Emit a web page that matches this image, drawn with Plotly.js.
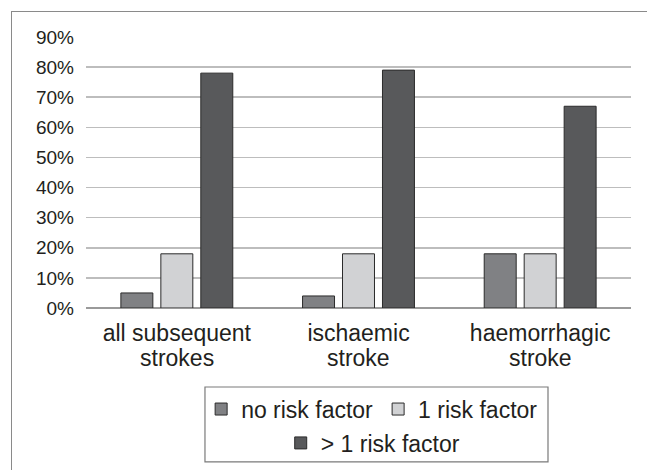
<!DOCTYPE html>
<html>
<head>
<meta charset="utf-8">
<script src="https://cdn.plot.ly/plotly-3.0.1.min.js"></script>
<style>
  html, body { margin: 0; padding: 0; background: #fff; }
  #wrap { position: relative; width: 647px; height: 470px; }
  #chart { width: 647px; height: 470px; }
  #frame {
    position: absolute; left: 11px; top: 11px; right: 0; bottom: 0;
    border-left: 1.5px solid #8a8a8a; border-top: 1.5px solid #8a8a8a;
    pointer-events: none;
  }
</style>
</head>
<body>
<div id="wrap">
  <div id="chart"></div>
  <div id="frame"></div>
</div>
<script>
// Stroke categories (x axis); each name is printed on two lines
const categories = ["all subsequent<br>strokes", "ischaemic<br>stroke", "haemorrhagic<br>stroke"];

// Share of patients (%) per number of risk factors
const noRiskFactor = [5, 4, 18];
const oneRiskFactor = [18, 18, 18];
const moreRiskFactors = [78, 79, 67];

const seriesNames = ["no risk factor", "1 risk factor", "> 1 risk factor"];
const yTicks = [0, 10, 20, 30, 40, 50, 60, 70, 80, 90];

// Split category names so the two lines can sit closer than Plotly's default line spacing
const firstLines = categories.map(c => c.split("<br>")[0]);
const secondLines = categories.map(c => c.split("<br>")[1]);

const outline = { color: "#2b2b2b", width: 1 };

const traces = [
  { type: "bar", name: seriesNames[0], x: categories, y: noRiskFactor,
    marker: { color: "#808184", line: outline }, legend: "legend" },
  { type: "bar", name: seriesNames[1], x: categories, y: oneRiskFactor,
    marker: { color: "#d1d2d4", line: outline }, legend: "legend" },
  { type: "bar", name: seriesNames[2], x: categories, y: moreRiskFactors,
    marker: { color: "#58595b", line: outline }, legend: "legend2" }
];

const textColor = "#231f20";
const fontFamily = "Liberation Sans, Arial, sans-serif";
const legendFont = { family: fontFamily, size: 23, color: textColor };
const catFont = { family: fontFamily, size: 23, color: textColor };

// second line of each category label, placed under the tick label
const secondLineNotes = categories.map((c, i) => ({
  xref: "x", yref: "paper",
  x: c, y: -0.1845,
  xanchor: "center", yanchor: "middle",
  text: secondLines[i],
  showarrow: false,
  font: catFont
}));

const layout = {
  width: 647, height: 470,
  margin: { l: 86, r: 16, t: 37, b: 162, autoexpand: false },
  paper_bgcolor: "#ffffff",
  plot_bgcolor: "#ffffff",
  barmode: "group",
  bargap: 0.34,
  bargroupgap: 0.2,
  showlegend: true,
  font: { family: fontFamily, color: textColor },
  xaxis: {
    type: "category",
    tickmode: "array",
    tickvals: categories,
    ticktext: firstLines,
    showgrid: false,
    showline: false,
    ticks: "",
    tickfont: catFont,
    ticklabelstandoff: 9
  },
  yaxis: {
    range: [0, 90],
    tickvals: yTicks,
    ticktext: yTicks.map(v => v + "%"),
    showgrid: true,
    gridcolor: "#bdbdbd",
    gridwidth: 1.5,
    zeroline: true,
    zerolinecolor: "#9a9a9a",
    zerolinewidth: 2,
    showline: false,
    ticks: "",
    tickfont: { size: 19, color: textColor },
    ticklabelstandoff: 11
  },
  legend: {
    orientation: "h",
    x: 0.525, xanchor: "center",
    y: -0.373, yanchor: "middle",
    font: legendFont,
    bgcolor: "rgba(0,0,0,0)",
    borderwidth: 0,
    traceorder: "normal"
  },
  legend2: {
    orientation: "h",
    x: 0.527, xanchor: "center",
    y: -0.498, yanchor: "middle",
    font: legendFont,
    bgcolor: "rgba(0,0,0,0)",
    borderwidth: 0
  },
  annotations: secondLineNotes,
  shapes: [
    // box surrounding both legend rows
    { type: "rect", xref: "paper", yref: "paper",
      x0: 0.2183, x1: 0.8477, y0: -0.568, y1: -0.2915,
      line: { color: "#7a7a7a", width: 1.2 }, fillcolor: "rgba(0,0,0,0)", layer: "below" }
  ]
};

Plotly.newPlot("chart", traces, layout, { displayModeBar: false, staticPlot: true });
</script>
</body>
</html>
